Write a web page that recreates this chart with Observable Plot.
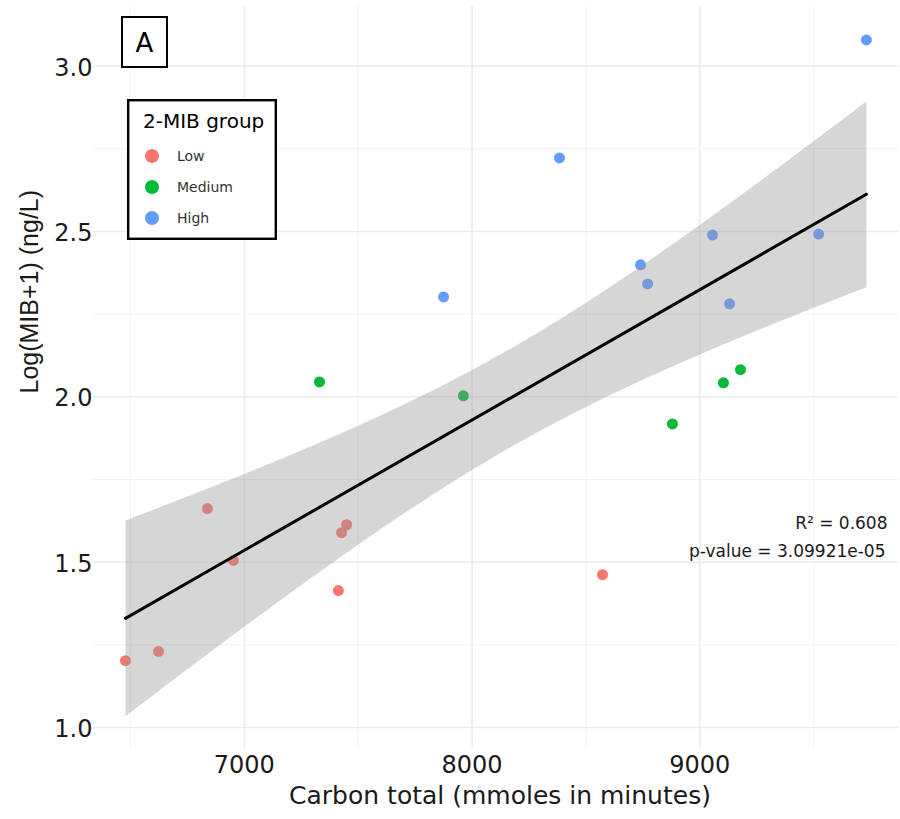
<!DOCTYPE html>
<html>
<head>
<meta charset="utf-8">
<script src="https://cdn.jsdelivr.net/npm/d3@7"></script>
<script src="https://cdn.jsdelivr.net/npm/@observablehq/plot@0.6"></script>
<style>
  html, body { margin: 0; padding: 0; background: #fff; }
  #wrap { position: relative; width: 900px; height: 819px; overflow: hidden; }
  #overlay { position: absolute; left: 0; top: 0; pointer-events: none; }
</style>
</head>
<body>
<div id="wrap"></div>
<script>
// ---- data ----
const groups = ["Low", "Medium", "High"];
const groupColors = ["#F8766D", "#00BA38", "#619CFF"];

const lowCarbon  = [6478, 6623, 6838, 6952, 7413, 7427, 7449, 8573];
const lowMIB     = [1.202, 1.230, 1.662, 1.505, 1.414, 1.589, 1.613, 1.462];
const medCarbon  = [7330, 7962, 8880, 9104, 9179];
const medMIB     = [2.045, 2.003, 1.918, 2.042, 2.082];
const highCarbon = [7875, 8384, 8740, 8771, 9056, 9131, 9522, 9732];
const highMIB    = [2.302, 2.722, 2.399, 2.341, 2.489, 2.281, 2.492, 3.079];

const xMajor = [7000, 8000, 9000];
const xMinor = [6500, 7500, 8500, 9500];
const yMajor = [1.0, 1.5, 2.0, 2.5, 3.0];
const yMinor = [1.25, 1.75, 2.25, 2.75];

const xTitle = "Carbon total (mmoles in minutes)";
const yTitle = "Log(MIB+1) (ng/L)";
const statR2 = "R² = 0.608";
const statP = "p-value = 3.09921e-05";
const legendTitle = "2-MIB group";
const panelLabel = "A";

// build table
const data = [
  ...lowCarbon.map((c, i) => ({carbon: c, mib: lowMIB[i], group: "Low"})),
  ...medCarbon.map((c, i) => ({carbon: c, mib: medMIB[i], group: "Medium"})),
  ...highCarbon.map((c, i) => ({carbon: c, mib: highMIB[i], group: "High"}))
];

const chart = Plot.plot({
  width: 900,
  height: 819,
  marginTop: 6,
  marginBottom: 71,
  marginLeft: 93,
  marginRight: 2,
  style: {fontFamily: "DejaVu Sans", background: "#fff", color: "#1a1a1a"},
  x: {domain: [6337.5, 9873]},
  y: {domain: [0.9365, 3.18]},
  color: {domain: groups, range: groupColors},
  marks: [
    Plot.gridX(xMinor, {stroke: "#f2f2f2", strokeOpacity: 1, strokeWidth: 1}),
    Plot.gridX(xMajor, {stroke: "#ebebeb", strokeOpacity: 1, strokeWidth: 1.5}),
    Plot.gridY(yMinor, {stroke: "#f2f2f2", strokeOpacity: 1, strokeWidth: 1}),
    Plot.gridY(yMajor, {stroke: "#ebebeb", strokeOpacity: 1, strokeWidth: 1.5}),
    Plot.axisX(xMajor, {tickSize: 0, tickPadding: 7, fontSize: 24, label: null, tickFormat: d3.format("d"), fill: "#1a1a1a"}),
    Plot.axisY(yMajor, {tickSize: 0, tickPadding: 1, fontSize: 24, label: null, tickFormat: d3.format(".1f"), dy: 2, fill: "#1a1a1a"}),
    Plot.dot(data, {x: "carbon", y: "mib", fill: "group", r: 5.5, stroke: "none"}),
    Plot.linearRegressionY(data, {x: "carbon", y: "mib", stroke: "#000", strokeWidth: 3, fill: "#999999", fillOpacity: 0.4, ci: 0.95}),
    Plot.text([statR2], {text: d => d, frameAnchor: "bottom-right", textAnchor: "end", fontSize: 17, dx: -11, dy: -219.5, fill: "#1a1a1a"}),
    Plot.text([statP], {text: d => d, frameAnchor: "bottom-right", textAnchor: "end", fontSize: 17, dx: -13, dy: -191.5, fill: "#1a1a1a"}),
    Plot.text([xTitle], {text: d => d, frameAnchor: "bottom", fontSize: 25, dy: 55, dx: 4, fill: "#1a1a1a"}),
    Plot.text([yTitle], {text: d => d, frameAnchor: "left", rotate: -90, fontSize: 25, fontFamily: "Liberation Sans", dx: -64, dy: 16, fill: "#1a1a1a"})
  ]
});

const wrap = document.getElementById("wrap");
wrap.appendChild(chart);

// ---- overlay: panel label and legend ----
const ov = d3.select(wrap).append("svg")
  .attr("id", "overlay")
  .attr("width", 900).attr("height", 819)
  .style("font-family", "DejaVu Sans");

// panel label box
ov.append("rect").attr("x", 122).attr("y", 17).attr("width", 45).attr("height", 50)
  .attr("fill", "#fff").attr("stroke", "#000").attr("stroke-width", 2);
ov.append("text").attr("x", 144.5).attr("y", 52).attr("text-anchor", "middle")
  .attr("font-size", 26).attr("fill", "#000").text(panelLabel);

// legend box
ov.append("rect").attr("x", 128.2).attr("y", 100.2).attr("width", 147.6).attr("height", 138.6)
  .attr("fill", "#fff").attr("stroke", "#000").attr("stroke-width", 2.4);
ov.append("text").attr("x", 143).attr("y", 128).attr("font-size", 20).attr("fill", "#000").text(legendTitle);
const rowY = [156, 187, 218];
groups.forEach((g, i) => {
  ov.append("circle").attr("cx", 152).attr("cy", rowY[i]).attr("r", 7).attr("fill", groupColors[i]);
  ov.append("text").attr("x", 177).attr("y", rowY[i] + 5.2).attr("font-size", 14).attr("fill", "#333").text(g);
});
</script>
</body>
</html>
